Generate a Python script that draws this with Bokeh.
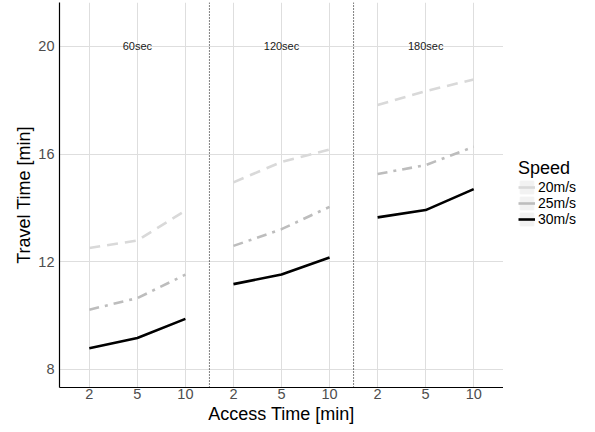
from bokeh.plotting import figure
from bokeh.layouts import row
from bokeh.models import (FixedTicker, Span, Legend, LegendItem, Range1d)
from bokeh.core.properties import value
from bokeh.embed import file_html
from bokeh.resources import INLINE

# ---- data ----
panels = ["60sec", "120sec", "180sec"]
access = ["2", "5", "10"]
speeds = ["20m/s", "25m/s", "30m/s"]
t20 = [12.51, 12.79, 13.90, 14.95, 15.71, 16.17, 17.82, 18.34, 18.77]
t25 = [10.22, 10.65, 11.52, 12.59, 13.21, 14.04, 15.26, 15.59, 16.27]
t30 = [8.79, 9.17, 9.88, 11.17, 11.53, 12.16, 13.65, 13.92, 14.70]
y_ticks = [8, 12, 16, 20]

FONT = "Liberation Sans"
colors = ["#d9d9d9", "#bdbdbd", "#000000"]
dashes = ["11 7", "10 6 3 6", "solid"]
series = [t20, t25, t30]

n = len(access)
xpos = list(range(len(panels) * n))
labels = {i: access[i % n] for i in xpos}

p = figure(width=503, height=432, output_backend="svg", toolbar_location=None,
           x_range=Range1d(-0.62, len(xpos) - 1 + 0.62),
           y_range=Range1d(7.33, 21.63),
           min_border_left=59, min_border_right=0, min_border_top=2, min_border_bottom=45)
p.outline_line_color = None
p.background_fill_color = "white"

# grid
p.xgrid.ticker = FixedTicker(ticks=xpos)
p.ygrid.ticker = FixedTicker(ticks=y_ticks)
for g in (p.xgrid[0], p.ygrid[0]):
    g.grid_line_color = "#dedede"
    g.grid_line_width = 1

# axes
p.xaxis.ticker = FixedTicker(ticks=xpos)
p.xaxis.major_label_overrides = labels
p.yaxis.ticker = FixedTicker(ticks=y_ticks)
for ax in (p.xaxis[0], p.yaxis[0]):
    ax.axis_line_color = "black"
    ax.axis_line_width = 1.2
    ax.major_tick_out = 0
    ax.major_tick_in = 0
    ax.minor_tick_out = 0
    ax.minor_tick_in = 0
    ax.major_label_text_font = FONT
    ax.major_label_text_font_size = "14.5px"
    ax.major_label_text_color = "#4d4d4d"
    ax.axis_label_text_font = FONT
    ax.axis_label_text_font_size = "18px"
    ax.axis_label_text_font_style = "normal"
    ax.axis_label_text_color = "black"
p.xaxis.axis_label = "Access Time [min]"
p.yaxis.axis_label = "Travel Time [min]"
p.xaxis.major_label_standoff = 1
p.xaxis.axis_label_standoff = 2
p.yaxis.major_label_standoff = 5
p.yaxis.axis_label_standoff = 1

# panel separators
for k in range(1, len(panels)):
    p.add_layout(Span(location=k * n - 0.5, dimension="height", line_color="black",
                      line_width=1, line_dash="1 2"))

# lines per panel
for vals, c, d in zip(series, colors, dashes):
    for k in range(len(panels)):
        xs = xpos[k * n:(k + 1) * n]
        ys = vals[k * n:(k + 1) * n]
        p.line(x=xs, y=ys, line_color=c, line_width=2.6, line_dash=d)

# panel labels
p.text(x=[k * n + 1 for k in range(len(panels))], y=[20] * len(panels), text=panels,
       text_align="center", text_baseline="middle", text_font=value(FONT),
       text_font_size="11px", text_color="#1a1a1a")

# legend figure
lg = figure(width=92, height=432, output_backend="svg", toolbar_location=None,
            x_range=Range1d(0, 1), y_range=Range1d(0, 1),
            x_axis_location=None, y_axis_location=None,
            min_border_left=0, min_border_right=0, min_border_top=0, min_border_bottom=0)
lg.outline_line_color = None
lg.xgrid.visible = False
lg.ygrid.visible = False

items = []
for s, c in zip(speeds, colors):
    bg = lg.rect(x=[-5], y=[-5], width=0.1, height=0.1,
                 fill_color="#f2f2f2", line_color="#f2f2f2")
    ln = lg.line(x=[-5, -4], y=[-5, -5], line_color=c, line_width=2.6)
    items.append(LegendItem(label=s, renderers=[bg, ln]))

legend = Legend(items=items, title="Speed", location=(15, 160))
legend.title_text_font = FONT
legend.title_text_font_size = "18px"
legend.title_text_font_style = "normal"
legend.title_text_color = "black"
legend.label_text_font = FONT
legend.label_text_font_size = "14px"
legend.label_text_color = "black"
legend.glyph_width = 17
legend.glyph_height = 16
legend.label_height = 16
legend.label_standoff = 3
legend.spacing = 0
legend.padding = 2
legend.margin = 0
legend.border_line_color = None
legend.background_fill_alpha = 0
legend.title_standoff = 0
lg.add_layout(legend, "center")

layout = row(p, lg)
open("out.html", "w").write(file_html(layout, INLINE))
